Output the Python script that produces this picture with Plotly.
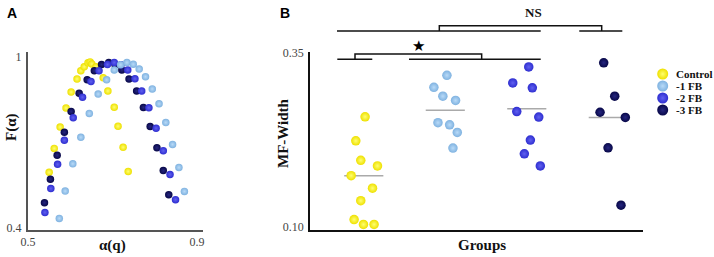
import plotly.graph_objects as go

W, H = 714, 257

# ---------------- Panel A data: alpha(q) vs F(alpha) ----------------
ctrl_a = [0.550, 0.562, 0.576, 0.590, 0.602, 0.616, 0.625, 0.633, 0.642, 0.647, 0.651, 0.661,
          0.678, 0.689, 0.704, 0.713, 0.725, 0.737]
ctrl_f = [0.594, 0.678, 0.753, 0.820, 0.876, 0.922, 0.951, 0.965, 0.979, 0.982, 0.975, 0.965,
          0.926, 0.880, 0.823, 0.756, 0.682, 0.597]

fb1_a = [0.574, 0.588, 0.606, 0.625, 0.645, 0.666, 0.686, 0.704, 0.719, 0.734, 0.749, 0.763,
         0.778, 0.794, 0.810, 0.826, 0.842, 0.857, 0.870]
fb1_f = [0.432, 0.528, 0.624, 0.717, 0.801, 0.869, 0.919, 0.954, 0.972, 0.980, 0.974, 0.957,
         0.930, 0.887, 0.835, 0.769, 0.692, 0.611, 0.527]

fb2_a = [0.540, 0.554, 0.570, 0.586, 0.607, 0.629, 0.649, 0.668, 0.688, 0.704, 0.720, 0.736,
         0.753, 0.769, 0.786, 0.803, 0.820, 0.836, 0.849]
fb2_f = [0.453, 0.537, 0.622, 0.707, 0.786, 0.858, 0.913, 0.951, 0.973, 0.980, 0.972, 0.954,
         0.923, 0.880, 0.821, 0.749, 0.670, 0.586, 0.498]

fb3_a = [0.539, 0.553, 0.569, 0.586, 0.602, 0.621, 0.640, 0.657, 0.674, 0.691, 0.706, 0.722,
         0.739, 0.757, 0.773, 0.789, 0.805, 0.820, 0.833]
fb3_f = [0.487, 0.570, 0.654, 0.735, 0.808, 0.872, 0.919, 0.951, 0.973, 0.980, 0.972, 0.954,
         0.922, 0.880, 0.822, 0.755, 0.680, 0.600, 0.515]

# ---------------- Panel B data: MF-Width per group ----------------
groups = ["Control", "-1 FB", "-2 FB", "-3 FB"]
ctrl_w = [0.2585, 0.224, 0.196, 0.188, 0.174, 0.156, 0.138, 0.111, 0.104, 0.104]
ctrl_jit = [0.016, -0.098, -0.037, 0.168, -0.155, 0.107, -0.037, -0.119, -0.004, 0.126]
fb1_w = [0.318, 0.3007, 0.288, 0.282, 0.250, 0.247, 0.236, 0.2135]
fb1_jit = [0.02, -0.14, -0.03, 0.126, -0.09, 0.053, 0.147, 0.094]
fb2_w = [0.330, 0.307, 0.300, 0.266, 0.258, 0.225, 0.2053, 0.188]
fb2_jit = [0.024, -0.172, 0.068, -0.123, 0.147, 0.044, -0.03, 0.166]
fb3_w = [0.336, 0.288, 0.265, 0.2576, 0.214, 0.1316]
fb3_jit = [-0.056, 0.079, -0.101, 0.209, -0.003, 0.156]
medians = [0.174, 0.268, 0.270, 0.2576]

colors = ["#EEE000", "#7FB2E0", "#2E2ED0", "#080848"]
highlights = ["#FFFF70", "#B8DAF8", "#6060F0", "#262680"]

fig = go.Figure()

def mk(i, size):
    return dict(color=colors[i], size=size, line=dict(width=0),
                gradient=dict(type="radial", color=highlights[i]))

# Panel A traces
panelA = [(ctrl_a, ctrl_f, 0), (fb3_a, fb3_f, 3), (fb2_a, fb2_f, 2), (fb1_a, fb1_f, 1)]
for xa, ya, i in panelA:
    fig.add_trace(go.Scatter(x=xa, y=ya, mode="markers", marker=mk(i, 7.5),
                             xaxis="x", yaxis="y", showlegend=False, cliponaxis=False))

# Panel B traces
sets = [(ctrl_w, ctrl_jit), (fb1_w, fb1_jit), (fb2_w, fb2_jit), (fb3_w, fb3_jit)]
for gi, (w, jit) in enumerate(sets):
    xs = [gi + j for j in jit]
    fig.add_trace(go.Scatter(x=[gi - 0.24, gi + 0.24], y=[medians[gi], medians[gi]], mode="lines",
                             line=dict(color="#AAAAAA", width=1.5),
                             xaxis="x2", yaxis="y2", showlegend=False))
    fig.add_trace(go.Scatter(x=xs, y=w, mode="markers", marker=mk(gi, 9.5),
                             xaxis="x2", yaxis="y2", showlegend=False, cliponaxis=False))

# Legend drawn on a pixel overlay axis covering the whole figure
leg_y = [74, 86, 98, 110]
fig.add_trace(go.Scatter(x=[662.7] * 4, y=leg_y, mode="markers",
                         marker=dict(color=colors, size=11, line=dict(width=0),
                                     gradient=dict(type="radial", color=highlights)),
                         xaxis="x3", yaxis="y3", showlegend=False, hoverinfo="skip"))

def px(x):
    return x / W

def py(y):
    return 1 - y / H

serif = "Liberation Serif"
ann = []
for g, yy in zip(groups, leg_y):
    ann.append(dict(x=674, y=yy, xref="x3", yref="y3", text="<b>%s</b>" % g, showarrow=False,
                    xanchor="left", yanchor="middle", font=dict(family=serif, size=11, color="#111")))

ann += [
    dict(x=px(5), y=py(13), xref="paper", yref="paper", text="<b>A</b>", showarrow=False,
         xanchor="left", yanchor="middle", font=dict(family="Liberation Sans", size=14, color="#000")),
    dict(x=px(278), y=py(13), xref="paper", yref="paper", text="<b>B</b>", showarrow=False,
         xanchor="left", yanchor="middle", font=dict(family="Liberation Sans", size=14, color="#000")),
    dict(x=px(11), y=py(127), xref="paper", yref="paper", text="<b>F(α)</b>", showarrow=False,
         textangle=-90, xanchor="center", yanchor="middle", font=dict(family=serif, size=15, color="#111")),
    dict(x=px(112), y=py(245), xref="paper", yref="paper", text="<b>α(q)</b>", showarrow=False,
         xanchor="center", yanchor="middle", font=dict(family=serif, size=15, color="#111")),
    dict(x=px(283), y=py(133), xref="paper", yref="paper", text="<b>MF-Width</b>", showarrow=False,
         textangle=-90, xanchor="center", yanchor="middle", font=dict(family=serif, size=15, color="#111")),
    dict(x=px(482), y=py(245), xref="paper", yref="paper", text="<b>Groups</b>", showarrow=False,
         xanchor="center", yanchor="middle", font=dict(family=serif, size=15, color="#111")),
    dict(x=px(533), y=py(12.7), xref="paper", yref="paper", text="<b>NS</b>", showarrow=False,
         xanchor="center", yanchor="middle", font=dict(family=serif, size=13, color="#111")),
    dict(x=px(418.7), y=py(46.3), xref="paper", yref="paper", text="★", showarrow=False,
         xanchor="center", yanchor="middle", font=dict(family="DejaVu Sans", size=15, color="#000")),
]

# Significance brackets (pixel paths)
brackets = [
    [(337, 31), (540.7, 31)],
    [(439.3, 31), (439.3, 25.7), (601.7, 25.7), (601.7, 31)],
    [(579.3, 31), (622.3, 31)],
    [(337.3, 59.3), (372.3, 59.3)],
    [(355, 59.3), (355, 54), (481.7, 54), (481.7, 59.3)],
    [(409, 59.3), (540.7, 59.3)],
]
shapes = []
for b in brackets:
    path = "M " + " L ".join("%.4f,%.4f" % (px(x), py(y)) for x, y in b)
    shapes.append(dict(type="path", path=path, xref="paper", yref="paper",
                       line=dict(color="#111", width=1.5)))

ydomain = [py(229.5), py(51.7)]
tickfont = dict(family=serif, size=12, color="#444")

fig.update_layout(
    width=W, height=H, margin=dict(l=0, r=0, t=0, b=0, pad=0),
    paper_bgcolor="white", plot_bgcolor="rgba(0,0,0,0)",
    annotations=ann, shapes=shapes,
    xaxis=dict(domain=[px(28), px(203)], range=[0.5, 0.914], tickvals=[0.5, 0.9], ticktext=["0.5", "0.9"],
               showgrid=False, zeroline=False, showline=True, linecolor="#555", linewidth=2,
               ticks="", tickfont=tickfont, anchor="y", automargin=False),
    yaxis=dict(domain=ydomain, range=[0.393, 1.018], tickvals=[0.4, 1.0], ticktext=["0.4", "1"],
               showgrid=False, zeroline=False, showline=True, linecolor="#555", linewidth=2,
               ticks="", tickfont=tickfont, anchor="x", ticklabelstandoff=2, automargin=False),
    xaxis2=dict(domain=[px(310), px(643)], range=[-0.66, 3.426], showticklabels=False,
                showgrid=False, zeroline=False, showline=True, linecolor="#111", linewidth=1.5,
                ticks="", anchor="y2", automargin=False),
    yaxis2=dict(domain=ydomain, range=[0.0967, 0.3519], tickvals=[0.10, 0.35], ticktext=["0.10", "0.35"],
                showgrid=False, zeroline=False, showline=True, linecolor="#111", linewidth=1.5,
                ticks="", tickfont=tickfont, anchor="x2", ticklabelstandoff=2, automargin=False),
    xaxis3=dict(domain=[0, 1], range=[0, W], visible=False, anchor="y3", automargin=False),
    yaxis3=dict(domain=[0, 1], range=[H, 0], visible=False, anchor="x3", automargin=False),
)

fig.write_html("out.html", config={"displayModeBar": False},
               post_script="document.body.style.margin='0';document.body.style.overflow='hidden';")
